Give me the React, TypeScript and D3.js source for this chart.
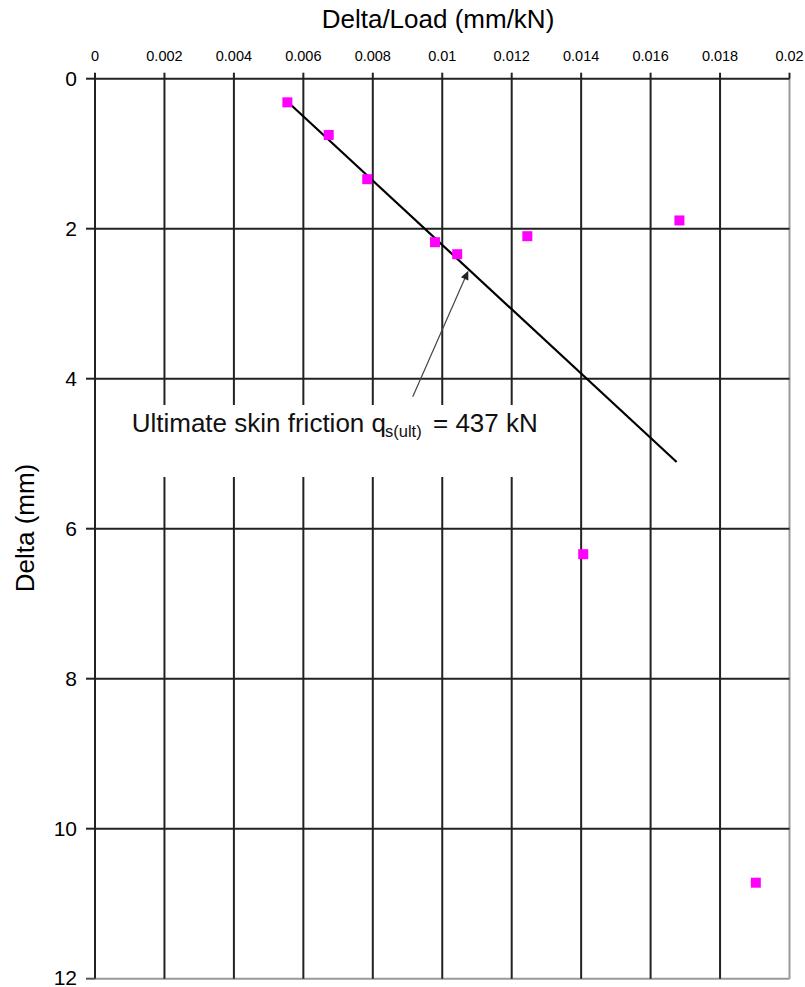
import React from "react";
import * as d3 from "d3";

const xTicks = [0, 0.002, 0.004, 0.006, 0.008, 0.01, 0.012, 0.014, 0.016, 0.018, 0.02];
const xTickLabels = ["0", "0.002", "0.004", "0.006", "0.008", "0.01", "0.012", "0.014", "0.016", "0.018", "0.02"];
const yTicks = [0, 2, 4, 6, 8, 10, 12];

const deltaLoad = [0.00554, 0.00673, 0.00784, 0.00979, 0.01043, 0.01245, 0.01683, 0.01406, 0.01903];
const delta = [0.315, 0.75, 1.34, 2.18, 2.34, 2.1, 1.89, 6.34, 10.72];

const trendX = [0.0056, 0.01675];
const trendY = [0.33, 5.11];

const arrowFrom = [0.00915, 4.24];
const arrowTo = [0.01075, 2.56];

const W = 805;
const H = 987;
const FONT = "'Liberation Sans', Arial, Helvetica, sans-serif";

export default function App() {
  const x = d3.scaleLinear().domain([0, 0.02]).range([95, 789.5]);
  const y = d3.scaleLinear().domain([0, 12]).range([78.7, 978.7]);
  const [x0, x1] = x.range();
  const [y0, y1] = y.range();

  const trendLine = d3.line<number>()
    .x((d, i) => x(trendX[i]))
    .y((d, i) => y(trendY[i]));

  const ax = x(arrowFrom[0]), ay = y(arrowFrom[1]);
  const bx = x(arrowTo[0]), by = y(arrowTo[1]);
  const ang = Math.atan2(by - ay, bx - ax);
  const ah = 9, aw = 4;
  const p1 = [bx - ah * Math.cos(ang) + aw * Math.sin(ang), by - ah * Math.sin(ang) - aw * Math.cos(ang)];
  const p2 = [bx - ah * Math.cos(ang) - aw * Math.sin(ang), by - ah * Math.sin(ang) + aw * Math.cos(ang)];

  const gridColor = "#222";
  const borderColor = "#999";

  return (
    <svg width={W} height={H} style={{ position: "absolute", left: 0, top: 0, background: "#fff" }} fontFamily={FONT}>
      <rect x={0} y={0} width={W} height={H} fill="#fff" />
      {/* border right and bottom */}
      <line x1={x1} x2={x1} y1={y0} y2={y1} stroke={borderColor} strokeWidth={2} />
      <line x1={x0} x2={x1} y1={y1} y2={y1} stroke={borderColor} strokeWidth={2} />
      {/* vertical gridlines */}
      {xTicks.slice(0, -1).map((t) => (
        <line key={"vx" + t} x1={x(t)} x2={x(t)} y1={y0} y2={y1} stroke={gridColor} strokeWidth={2} />
      ))}
      {/* horizontal gridlines */}
      {yTicks.slice(0, -1).map((t) => (
        <line key={"hy" + t} x1={x0} x2={x1} y1={y(t)} y2={y(t)} stroke={gridColor} strokeWidth={2} />
      ))}
      {/* top tick marks */}
      {xTicks.map((t) => (
        <line key={"tx" + t} x1={x(t)} x2={x(t)} y1={y0 - 6} y2={y0} stroke={gridColor} strokeWidth={2} />
      ))}
      {/* left tick marks */}
      {yTicks.map((t) => (
        <line key={"ty" + t} x1={x0 - 9} x2={x0} y1={y(t)} y2={y(t)} stroke={t === 12 ? "#555" : gridColor} strokeWidth={2} />
      ))}
      {/* top tick labels */}
      {xTicks.map((t, i) => (
        <text key={"lx" + t} x={x(t)} y={61} textAnchor="middle" fontSize={14.5} fill="#000">
          {xTickLabels[i]}
        </text>
      ))}
      {/* left tick labels */}
      {yTicks.map((t) => (
        <text key={"ly" + t} x={77} y={Math.min(y(t), 977)} textAnchor="end" dominantBaseline="central" fontSize={21} fill="#000">
          {String(t)}
        </text>
      ))}
      {/* axis titles */}
      <text x={438} y={28} textAnchor="middle" fontSize={26} fill="#000">Delta/Load (mm/kN)</text>
      <text transform={`translate(34,528) rotate(-90)`} textAnchor="middle" fontSize={26} fill="#000">Delta (mm)</text>

      {/* annotation box */}
      <rect x={100} y={405} width={476} height={72} fill="#fff" />
      <text x={131.7} y={432} fontSize={26} fill="#111">Ultimate skin friction q</text>
      <text x={385} y={437} fontSize={16.5} fill="#111">s(ult)</text>
      <text x={433} y={432} fontSize={26} fill="#111">= 437 kN</text>

      {/* arrow */}
      <line x1={ax} y1={ay} x2={bx - 4 * Math.cos(ang)} y2={by - 4 * Math.sin(ang)} stroke="#444" strokeWidth={1.2} />
      <polygon points={`${bx},${by} ${p1[0]},${p1[1]} ${p2[0]},${p2[1]}`} fill="#222" />

      {/* trend line */}
      <path d={trendLine(trendX) || ""} fill="none" stroke="#000" strokeWidth={2.2} />

      {/* points */}
      {deltaLoad.map((v, i) => (
        <rect key={"p" + i} x={x(v) - 5} y={y(delta[i]) - 5} width={10} height={10} fill="#ff00ff" />
      ))}
    </svg>
  );
}
